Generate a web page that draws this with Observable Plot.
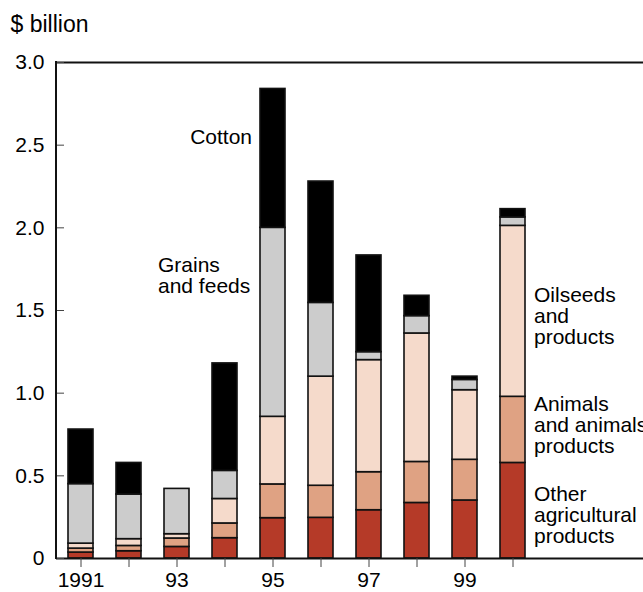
<!DOCTYPE html>
<html>
<head>
<meta charset="utf-8">
<script src="https://cdn.jsdelivr.net/npm/d3@7"></script>
<script src="https://cdn.jsdelivr.net/npm/@observablehq/plot@0.6"></script>
<style>
  html, body { margin: 0; padding: 0; background: #fff; }
  #chart { width: 643px; height: 592px; overflow: hidden; }
</style>
</head>
<body>
<div id="chart"></div>
<script>
const years = [1991, 1992, 1993, 1994, 1995, 1996, 1997, 1998, 1999, 2000];
const categories = ["Other agricultural products", "Animals and animals products", "Oilseeds and products", "Grains and feeds", "Cotton"];
const other    = [0.036, 0.044, 0.070, 0.123, 0.244, 0.246, 0.292, 0.336, 0.351, 0.578];
const animals  = [0.024, 0.032, 0.051, 0.089, 0.204, 0.194, 0.230, 0.248, 0.246, 0.400];
const oilseeds = [0.030, 0.041, 0.026, 0.148, 0.409, 0.660, 0.678, 0.777, 0.421, 1.034];
const grains   = [0.360, 0.270, 0.274, 0.170, 1.143, 0.446, 0.048, 0.105, 0.062, 0.051];
const cotton   = [0.330, 0.191, 0.000, 0.650, 0.840, 0.734, 0.585, 0.123, 0.020, 0.050];
const colors = ["#b53a28", "#dfa283", "#f5dacb", "#cccccc", "#000000"];
const yTicks = [0, 0.5, 1.0, 1.5, 2.0, 2.5, 3.0];
const xTickLabels = ["1991", "", "93", "", "95", "", "97", "", "99", ""];

const series = [other, animals, oilseeds, grains, cotton];
const table = [];
years.forEach((yr, i) => {
  categories.forEach((c, j) => {
    table.push({year: yr, category: c, value: series[j][i]});
  });
});

const labelText = {
  "Cotton": "Cotton",
  "Grains": "Grains\nand feeds",
  "Oilseeds": "Oilseeds\nand\nproducts",
  "Animals": "Animals\nand animals\nproducts",
  "Other": "Other\nagricultural\nproducts"
};

const plot = Plot.plot({
  width: 643,
  height: 592,
  marginTop: 62,
  marginBottom: 34,
  marginLeft: 56,
  marginRight: 0,
  style: {fontFamily: "'Liberation Sans', Arial, Helvetica, sans-serif", fontSize: "21px", background: "#fff", overflow: "visible", color: "#000"},
  x: {type: "band", domain: years, range: [56, 536], paddingInner: 0.48, paddingOuter: 0.24},
  y: {domain: [0, 3]},
  color: {domain: categories, range: colors},
  marks: [
    Plot.rectY(table, Plot.stackY({x: "year", y: "value", fill: "category", stroke: "#111", strokeWidth: 1.6})),
    Plot.ruleY([3], {stroke: "#111", strokeWidth: 2}),
    Plot.ruleY([0], {stroke: "#111", strokeWidth: 2}),
    Plot.axisY({ticks: yTicks, tickSize: -8, tickPadding: 20, tickFormat: d => d === 0 ? "0" : d.toFixed(1), stroke: "#444", label: null}),
    Plot.axisX({tickSize: 9, tickPadding: 5, tickFormat: (d, i) => xTickLabels[years.indexOf(d)], stroke: "#444", label: null}),
    Plot.text(["$ billion"], {frameAnchor: "top-left", dx: -46, dy: -47, textAnchor: "start", lineAnchor: "top", fontSize: 23}),
    Plot.text([labelText.Cotton], {x: [1995], y: [2.60], dx: -21, textAnchor: "end", lineAnchor: "top"}),
    Plot.text([labelText.Grains], {x: [1993], y: [1.825], dx: -19, textAnchor: "start", lineAnchor: "top"}),
    Plot.text([labelText.Oilseeds], {x: [2000], y: [1.643], dx: 21, textAnchor: "start", lineAnchor: "top"}),
    Plot.text([labelText.Animals], {x: [2000], y: [0.982], dx: 21, textAnchor: "start", lineAnchor: "top"}),
    Plot.text([labelText.Other], {x: [2000], y: [0.437], dx: 21, textAnchor: "start", lineAnchor: "top"})
  ]
});

// left axis line, positioned via the plot's own scales
const xs = plot.scale("x"), ys = plot.scale("y");
d3.select(plot).append("line")
  .attr("x1", xs.range[0]).attr("x2", xs.range[0])
  .attr("y1", ys.apply(0) + 1).attr("y2", ys.apply(3) - 1)
  .attr("stroke", "#111").attr("stroke-width", 2);

document.getElementById("chart").appendChild(plot);
</script>
</body>
</html>
